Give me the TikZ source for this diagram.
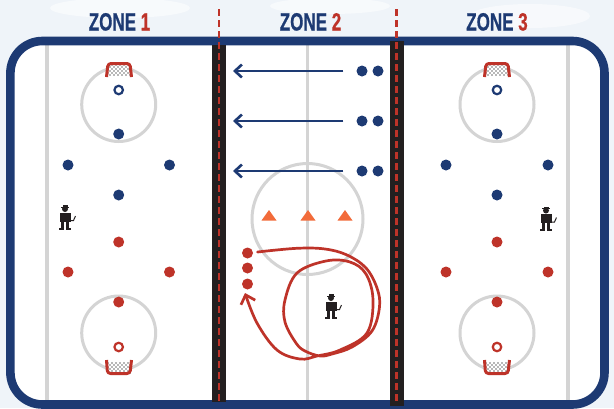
\documentclass[tikz,border=0pt]{standalone}
\usepackage{fontspec}
\setmainfont[FakeStretch=0.68,FakeBold=0.6]{Liberation Sans}
\usetikzlibrary{arrows.meta}
\definecolor{navy}{HTML}{1D3A73}
\definecolor{puckred}{HTML}{BE3329}
\definecolor{icegray}{HTML}{D4D4D4}
\definecolor{barblack}{HTML}{231F20}
\definecolor{cone}{HTML}{F26B3A}
\definecolor{skyice}{HTML}{EFF4F9}
\tikzset{
  x=1pt,y=-1pt,
  bluedot/.style={circle,fill=navy,inner sep=0,minimum size=11pt},
  reddot/.style={circle,fill=puckred,inner sep=0,minimum size=11pt},
  ring/.style={circle,draw=#1,fill=white,line width=2.2pt,inner sep=0,minimum size=8.5pt},
  faceoff/.style={draw=icegray,line width=3pt,fill=none},
  rinkline/.style={draw=icegray,line width=3.5pt},
  bar/.style={fill=barblack},
  zoneline/.style={draw=puckred,line width=2.6pt,dash pattern=on 6.5pt off 4.5pt},
  passarrow/.style={draw=navy,line width=2.6pt,-{Straight Barb[length=7pt,width=13pt,line width=2.6pt]}},
  skatepath/.style={draw=puckred,line width=2.7pt,line cap=round,-{Straight Barb[length=8pt,width=15pt,line width=2.7pt]}},
  conetri/.style={fill=cone},
  zonetext/.style={font=\bfseries\fontsize{25}{25}\selectfont,inner sep=0,anchor=base},
  goalframe/.style={draw=puckred,line width=3pt,line join=round,rounded corners=3pt},
  pics/player/.style={code={
    \fill[barblack] (0,-9.5) circle (3);
    \fill[barblack] (-4,-12) rectangle (4,-11);
    \fill[barblack] (-2.5,-13.2) rectangle (2.5,-11);
    \fill[barblack] (-5.5,-6) rectangle (5.5,3);
    \fill[barblack] (-4,3) rectangle (-1,10);
    \fill[barblack] (1,3) rectangle (4,10);
    \fill[barblack] (-6,9) rectangle (-1,11);
    \fill[barblack] (1,9) rectangle (6,11);
    \draw[barblack,line width=1pt] (5,2) -- (8.5,2) -- (10.5,-2.5);
  }},
  pics/netfill/.style={code={
    \fill[white] (0,0) rectangle (24,12);
    \foreach \i in {0,...,11}{\foreach \j in {0,...,5}{
      \pgfmathparse{int(mod(\i+\j,2))}
      \ifnum\pgfmathresult=0 \fill[black!28] (2*\i,2*\j) rectangle +(2,2);\fi
    }}
  }}
}
\begin{document}
\begin{tikzpicture}
\useasboundingbox (0,0) rectangle (614,408);
% background
\fill[skyice] (0,0) rectangle (614,408);
\fill[white,opacity=.55] (120,8) ellipse (70 and 10);
\fill[white,opacity=.55] (330,6) ellipse (60 and 8);
\fill[white,opacity=.5] (530,16) ellipse (60 and 12);
% ice
\fill[white,rounded corners=32pt] (10,41) rectangle (604.5,404.5);
% rink lines
\draw[rinkline] (47,45) -- (47,401);
\draw[rinkline] (568,45) -- (568,401);
\draw[draw=icegray,line width=3pt] (307.5,45) -- (307.5,401);
% face-off circles
\node[faceoff,circle,minimum size=74pt,inner sep=0] (c1) at (118.7,104.5) {};
\node[faceoff,circle,minimum size=74pt,inner sep=0] (c2) at (118.7,333) {};
\node[faceoff,circle,minimum size=74pt,inner sep=0] (c3) at (497,104.5) {};
\node[faceoff,circle,minimum size=74pt,inner sep=0] (c4) at (497,333) {};
\node[faceoff,circle,minimum size=111pt,inner sep=0] (c5) at (307.5,219) {};
% goals
\pic at (107,64) {netfill};
\pic at (485,64) {netfill};
\pic at (107,362) {netfill};
\pic at (485,362) {netfill};
\draw[goalframe] (106.5,77) -- (108,63.5) -- (130,63.5) -- (131.5,77);
\draw[goalframe] (484.5,77) -- (486,63.5) -- (508,63.5) -- (509.5,77);
\draw[goalframe] (106.5,360) -- (107.5,373.5) -- (130,373.5) -- (131.5,360);
\draw[goalframe] (484.5,360) -- (485.5,373.5) -- (508,373.5) -- (509.5,360);
% border
\draw[navy,line width=8.6pt,rounded corners=32pt] (10.4,41) rectangle (604.5,404.5);
% bars
\fill[bar] (212,45) rectangle (226,402);
\fill[bar] (390,41) rectangle (404,406);
\draw[zoneline] (219,9) -- (219,404);
\draw[zoneline] (396.5,9) -- (396.5,404);
% zone titles
\node[zonetext] (z1) at (119.5,30.5) {\textcolor{navy}{ZONE} \textcolor{puckred}{1}};
\node[zonetext] (z2) at (310.5,30.5) {\textcolor{navy}{ZONE} \textcolor{puckred}{2}};
\node[zonetext] (z3) at (497,30.5) {\textcolor{navy}{ZONE} \textcolor{puckred}{3}};
% zone 1 dots
\node[ring=navy] (r1) at (118.7,90) {};
\node[ring=puckred] (r2) at (118.7,347) {};
\node[bluedot] (l1) at (118.7,134) {};
\node[bluedot] (l2) at (68,165) {};
\node[bluedot] (l3) at (169.5,165) {};
\node[bluedot] (l4) at (118.7,195) {};
\node[reddot] (l5) at (118.7,242) {};
\node[reddot] (l6) at (68,272) {};
\node[reddot] (l7) at (169.5,272) {};
\node[reddot] (l8) at (118.7,302) {};
% zone 3 dots
\node[ring=navy] (r3) at (497,90) {};
\node[ring=puckred] (r4) at (497,347) {};
\node[bluedot] (t1) at (497,134) {};
\node[bluedot] (t2) at (446,165) {};
\node[bluedot] (t3) at (548,165) {};
\node[bluedot] (t4) at (497,195) {};
\node[reddot] (t5) at (497,242) {};
\node[reddot] (t6) at (446,272) {};
\node[reddot] (t7) at (548,272) {};
\node[reddot] (t8) at (497,302) {};
% zone 2 dots and arrows
\foreach \n/\y in {a/71,b/121,c/171}{
  \node[bluedot] (\n1) at (362,\y) {};
  \node[bluedot] (\n2) at (378,\y) {};
  \coordinate (\n0) at (233,\y);
  \draw[passarrow,shorten <=13pt] (\n1) -- (\n0);
}
\node[reddot] (m1) at (247.5,253) {};
\node[reddot] (m2) at (247.5,268) {};
\node[reddot] (m3) at (247.5,284) {};
% cones
\fill[conetri] (261.5,220.5) -- (269,210) -- (276.5,220.5) -- cycle;
\fill[conetri] (300.5,220.5) -- (308,210) -- (315.5,220.5) -- cycle;
\fill[conetri] (337.5,220.5) -- (345,210) -- (352.5,220.5) -- cycle;
% skating path
\draw[skatepath] plot[smooth,tension=.6] coordinates {
 (257.5,252) (297,248.3) (325,249) (347,255) (366,268) (377,288) (379.5,307) (372,331) (352,347)
 (332,354) (320,356) (305,351) (296,343) (285,322) (285,300) (297,273) (326,261) (350,262) (366,274) (373,300) (367,333) (340,350)
 (317,356) (300,359) (277,350) (257,323) (245,293)};
% players
\pic at (65,218.5) {player};
\pic at (546,220) {player};
\pic at (331,307.5) {player};
\end{tikzpicture}
\end{document}
